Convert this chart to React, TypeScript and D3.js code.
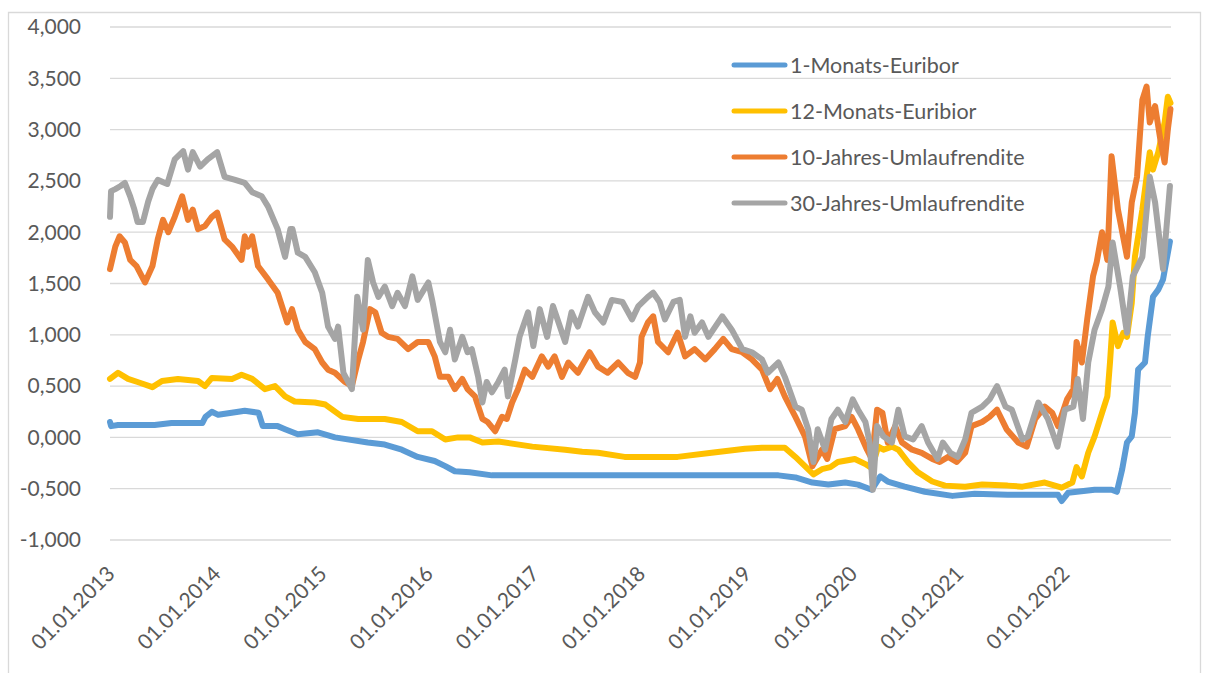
import React from "react";
import * as d3 from "d3";

// [decimal year, value in %]
const euribor1M: [number, number][] = [
  [2013.0, 0.15], [2013.01, 0.11], [2013.075, 0.12], [2013.42, 0.12], [2013.58, 0.14], [2013.87, 0.14],
  [2013.9, 0.2], [2013.96, 0.25], [2014.02, 0.22], [2014.21, 0.25], [2014.27, 0.26], [2014.4, 0.24],
  [2014.44, 0.11], [2014.58, 0.11], [2014.65, 0.08], [2014.77, 0.03], [2014.96, 0.05], [2015.12, 0.0],
  [2015.43, -0.05], [2015.59, -0.07], [2015.75, -0.12], [2015.9, -0.19], [2016.06, -0.23], [2016.16, -0.28],
  [2016.25, -0.33], [2016.39, -0.34], [2016.6, -0.37], [2017.0, -0.37], [2018.0, -0.37], [2019.0, -0.37],
  [2019.3, -0.37], [2019.46, -0.39], [2019.62, -0.44], [2019.77, -0.46], [2019.93, -0.44], [2020.05, -0.46],
  [2020.18, -0.51], [2020.26, -0.38], [2020.33, -0.43], [2020.49, -0.48], [2020.68, -0.53], [2020.94, -0.57],
  [2021.15, -0.55], [2021.46, -0.56], [2021.75, -0.56], [2021.935, -0.56], [2021.97, -0.62], [2022.03, -0.54],
  [2022.28, -0.51], [2022.44, -0.51], [2022.49, -0.53], [2022.54, -0.31], [2022.585, -0.05], [2022.63, 0.01],
  [2022.66, 0.24], [2022.69, 0.66], [2022.755, 0.73], [2022.78, 0.98], [2022.83, 1.37], [2022.88, 1.44],
  [2022.925, 1.54], [2022.99, 1.91],
];

const euribor12M: [number, number][] = [
  [2013.0, 0.57], [2013.075, 0.63], [2013.17, 0.57], [2013.26, 0.54], [2013.4, 0.49], [2013.49, 0.55],
  [2013.64, 0.57], [2013.83, 0.55], [2013.895, 0.5], [2013.96, 0.58], [2014.15, 0.57], [2014.24, 0.61],
  [2014.34, 0.57], [2014.46, 0.47], [2014.555, 0.5], [2014.65, 0.4], [2014.74, 0.35], [2014.93, 0.34],
  [2015.03, 0.32], [2015.19, 0.2], [2015.34, 0.18], [2015.59, 0.18], [2015.75, 0.15], [2015.9, 0.06],
  [2016.035, 0.06], [2016.16, -0.02], [2016.28, 0.0], [2016.39, 0.0], [2016.51, -0.05], [2016.66, -0.04],
  [2016.98, -0.09], [2017.29, -0.12], [2017.45, -0.14], [2017.6, -0.15], [2017.85, -0.19], [2018.07, -0.19],
  [2018.35, -0.19], [2018.67, -0.15], [2018.985, -0.11], [2019.145, -0.1], [2019.36, -0.1], [2019.46, -0.19],
  [2019.55, -0.28], [2019.63, -0.36], [2019.71, -0.31], [2019.79, -0.29], [2019.86, -0.24], [2020.02, -0.21],
  [2020.12, -0.26], [2020.18, -0.3], [2020.24, -0.09], [2020.29, -0.12], [2020.37, -0.09], [2020.43, -0.12],
  [2020.52, -0.24], [2020.615, -0.34], [2020.75, -0.43], [2020.87, -0.47], [2021.06, -0.48], [2021.22, -0.46],
  [2021.46, -0.47], [2021.6, -0.48], [2021.81, -0.44], [2021.97, -0.49], [2022.07, -0.44], [2022.11, -0.29],
  [2022.16, -0.38], [2022.22, -0.15], [2022.28, 0.01], [2022.35, 0.24], [2022.4, 0.4], [2022.425, 0.73],
  [2022.45, 1.12], [2022.5, 0.89], [2022.55, 1.02], [2022.585, 0.98], [2022.63, 1.31], [2022.66, 1.76],
  [2022.73, 2.22], [2022.77, 2.54], [2022.8, 2.78], [2022.83, 2.61], [2022.88, 2.78], [2022.94, 3.07],
  [2022.97, 3.32], [2022.995, 3.26],
];

const umlauf10Y: [number, number][] = [
  [2013.0, 1.64], [2013.05, 1.86], [2013.09, 1.96], [2013.14, 1.9], [2013.19, 1.73], [2013.25, 1.67],
  [2013.33, 1.51], [2013.4, 1.67], [2013.45, 1.93], [2013.5, 2.12], [2013.55, 2.0], [2013.61, 2.15],
  [2013.68, 2.35], [2013.735, 2.12], [2013.78, 2.22], [2013.83, 2.03], [2013.895, 2.06], [2013.96, 2.15],
  [2014.01, 2.19], [2014.08, 1.93], [2014.15, 1.86], [2014.24, 1.73], [2014.27, 1.96], [2014.3, 1.86],
  [2014.34, 1.96], [2014.395, 1.67], [2014.49, 1.54], [2014.58, 1.41], [2014.67, 1.12], [2014.715, 1.25],
  [2014.77, 1.05], [2014.84, 0.93], [2014.93, 0.86], [2015.0, 0.73], [2015.055, 0.66], [2015.12, 0.63],
  [2015.215, 0.54], [2015.28, 0.5], [2015.34, 0.76], [2015.385, 0.93], [2015.45, 1.25], [2015.5, 1.22],
  [2015.56, 1.02], [2015.62, 0.98], [2015.71, 0.96], [2015.81, 0.86], [2015.9, 0.93], [2016.0, 0.93],
  [2016.06, 0.79], [2016.11, 0.59], [2016.19, 0.59], [2016.25, 0.47], [2016.32, 0.57], [2016.37, 0.47],
  [2016.44, 0.4], [2016.51, 0.18], [2016.56, 0.15], [2016.63, 0.06], [2016.695, 0.2], [2016.74, 0.18],
  [2016.79, 0.34], [2016.845, 0.47], [2016.91, 0.66], [2016.98, 0.59], [2017.07, 0.79], [2017.13, 0.69],
  [2017.19, 0.79], [2017.26, 0.59], [2017.32, 0.73], [2017.41, 0.63], [2017.52, 0.83], [2017.6, 0.69],
  [2017.69, 0.63], [2017.79, 0.73], [2017.88, 0.63], [2017.95, 0.59], [2017.995, 0.73], [2018.01, 0.98],
  [2018.07, 1.12], [2018.12, 1.18], [2018.165, 0.93], [2018.26, 0.83], [2018.35, 1.02], [2018.42, 0.79],
  [2018.51, 0.86], [2018.61, 0.76], [2018.7, 0.86], [2018.78, 0.96], [2018.86, 0.86], [2018.96, 0.83],
  [2019.05, 0.76], [2019.145, 0.66], [2019.22, 0.47], [2019.29, 0.57], [2019.36, 0.4], [2019.46, 0.2],
  [2019.55, 0.01], [2019.62, -0.28], [2019.71, -0.12], [2019.76, -0.21], [2019.83, 0.08], [2019.93, 0.11],
  [2019.99, 0.2], [2020.05, 0.08], [2020.135, -0.12], [2020.18, -0.21], [2020.23, 0.27], [2020.28, 0.24],
  [2020.33, -0.05], [2020.4, 0.11], [2020.465, -0.05], [2020.56, -0.12], [2020.65, -0.15], [2020.75, -0.21],
  [2020.82, -0.24], [2020.9, -0.19], [2020.98, -0.24], [2021.06, -0.15], [2021.12, 0.11], [2021.22, 0.15],
  [2021.29, 0.2], [2021.36, 0.27], [2021.45, 0.08], [2021.56, -0.05], [2021.64, -0.09], [2021.72, 0.18],
  [2021.81, 0.3], [2021.88, 0.24], [2021.935, 0.11], [2022.02, 0.37], [2022.08, 0.47], [2022.11, 0.93],
  [2022.16, 0.73], [2022.21, 1.15], [2022.265, 1.57], [2022.3, 1.71], [2022.35, 2.0], [2022.4, 1.73],
  [2022.44, 2.74], [2022.5, 2.22], [2022.585, 1.76], [2022.63, 2.29], [2022.68, 2.54], [2022.73, 3.29],
  [2022.77, 3.42], [2022.8, 3.07], [2022.85, 3.23], [2022.9, 2.9], [2022.94, 2.68], [2022.97, 3.0],
  [2022.995, 3.2],
];

const umlauf30Y: [number, number][] = [
  [2013.0, 2.15], [2013.01, 2.4], [2013.05, 2.42], [2013.1, 2.45], [2013.14, 2.48], [2013.19, 2.35],
  [2013.23, 2.22], [2013.26, 2.1], [2013.31, 2.1], [2013.36, 2.3], [2013.4, 2.42], [2013.45, 2.51],
  [2013.54, 2.47], [2013.61, 2.71], [2013.69, 2.79], [2013.735, 2.61], [2013.78, 2.78], [2013.85, 2.64],
  [2013.92, 2.71], [2014.01, 2.78], [2014.08, 2.54], [2014.18, 2.51], [2014.27, 2.48], [2014.34, 2.39],
  [2014.43, 2.35], [2014.49, 2.25], [2014.58, 2.03], [2014.65, 1.76], [2014.7, 2.03], [2014.72, 2.03],
  [2014.77, 1.8], [2014.84, 1.76], [2014.93, 1.61], [2015.0, 1.41], [2015.055, 1.08], [2015.12, 0.96],
  [2015.15, 1.08], [2015.2, 0.63], [2015.28, 0.47], [2015.33, 1.37], [2015.385, 1.05], [2015.43, 1.73],
  [2015.48, 1.51], [2015.53, 1.37], [2015.59, 1.47], [2015.66, 1.28], [2015.71, 1.41], [2015.78, 1.28],
  [2015.85, 1.57], [2015.9, 1.34], [2016.0, 1.51], [2016.04, 1.32], [2016.11, 0.93], [2016.16, 0.83],
  [2016.205, 1.05], [2016.25, 0.76], [2016.32, 0.98], [2016.37, 0.83], [2016.41, 0.86], [2016.47, 0.59],
  [2016.51, 0.34], [2016.55, 0.54], [2016.6, 0.44], [2016.66, 0.54], [2016.72, 0.66], [2016.75, 0.4],
  [2016.82, 0.76], [2016.86, 0.98], [2016.94, 1.22], [2016.99, 0.89], [2017.05, 1.25], [2017.12, 0.98],
  [2017.175, 1.28], [2017.29, 0.93], [2017.35, 1.22], [2017.41, 1.08], [2017.505, 1.37], [2017.57, 1.22],
  [2017.65, 1.12], [2017.73, 1.34], [2017.83, 1.32], [2017.92, 1.15], [2017.98, 1.28], [2018.07, 1.37],
  [2018.12, 1.41], [2018.18, 1.32], [2018.23, 1.15], [2018.31, 1.32], [2018.37, 1.34], [2018.42, 0.98],
  [2018.47, 1.18], [2018.51, 1.02], [2018.58, 1.12], [2018.64, 0.98], [2018.77, 1.18], [2018.86, 1.05],
  [2018.96, 0.86], [2019.05, 0.83], [2019.145, 0.76], [2019.2, 0.63], [2019.3, 0.73], [2019.36, 0.59],
  [2019.46, 0.3], [2019.52, 0.27], [2019.58, 0.08], [2019.63, -0.24], [2019.67, 0.08], [2019.74, -0.12],
  [2019.8, 0.18], [2019.86, 0.27], [2019.93, 0.15], [2020.0, 0.37], [2020.05, 0.27], [2020.12, 0.15],
  [2020.16, -0.05], [2020.19, -0.51], [2020.23, 0.11], [2020.29, 0.01], [2020.37, -0.05], [2020.43, 0.27],
  [2020.49, 0.01], [2020.57, -0.02], [2020.65, 0.11], [2020.71, -0.05], [2020.8, -0.21], [2020.85, -0.05],
  [2020.92, -0.15], [2020.99, -0.19], [2021.06, -0.02], [2021.12, 0.24], [2021.22, 0.3], [2021.29, 0.37],
  [2021.36, 0.5], [2021.44, 0.3], [2021.5, 0.27], [2021.6, -0.02], [2021.65, 0.01], [2021.75, 0.34],
  [2021.84, 0.18], [2021.93, -0.09], [2022.0, 0.27], [2022.08, 0.3], [2022.12, 0.57], [2022.17, 0.18],
  [2022.22, 0.73], [2022.28, 1.05], [2022.35, 1.25], [2022.41, 1.47], [2022.45, 1.9], [2022.52, 1.47],
  [2022.585, 1.02], [2022.64, 1.57], [2022.73, 1.76], [2022.8, 2.54], [2022.85, 2.29], [2022.925, 1.64],
  [2022.99, 2.45],
];

const seriesNames = ["1-Monats-Euribor", "12-Monats-Euribior", "10-Jahres-Umlaufrendite", "30-Jahres-Umlaufrendite"];
const seriesColors = ["#5b9bd5", "#ffc000", "#ed7d31", "#a5a5a5"];
const seriesData = [euribor1M, euribor12M, umlauf10Y, umlauf30Y];
const yTicks = [-1, -0.5, 0, 0.5, 1, 1.5, 2, 2.5, 3, 3.5, 4];
const xTickYears = [2013, 2014, 2015, 2016, 2017, 2018, 2019, 2020, 2021, 2022];

const W = 1205;
const H = 673;
const FONT = "Lato, 'Noto Sans', sans-serif";
const TEXT = "#595959";
const GRID = "#d9d9d9";

export default function App() {
  const x = d3.scaleLinear().domain([2013, 2023]).range([110, 1171]);
  const y = d3.scaleLinear().domain([-1, 4]).range([540, 27]);
  const loc = d3.formatLocale({ decimal: ",", thousands: ".", grouping: [3], currency: ["", "€"], minus: "-" });
  const fmt = loc.format(".3f");
  const line = d3
    .line<[number, number]>()
    .x((d) => x(d[0]))
    .y((d) => y(d[1]));

  return (
    <svg
      width={W}
      height={H}
      style={{ position: "fixed", left: 0, top: 0, background: "#fff" }}
      fontFamily={FONT}
    >
      <rect x={0} y={0} width={W} height={H} fill="#fff" />
      <path d={`M8.5,${H} V12.5 H1200.5 V${H}`} fill="none" stroke={GRID} strokeWidth={1.3} />
      {yTicks.map((t) => (
        <g key={t}>
          <line x1={110} x2={1171} y1={y(t)} y2={y(t)} stroke={GRID} strokeWidth={1.3} />
          <text x={81} y={y(t)} dy="0.35em" textAnchor="end" fontSize={21} fill={TEXT}>
            {fmt(t)}
          </text>
        </g>
      ))}
      {xTickYears.map((yr) => (
        <text
          key={yr}
          transform={`translate(${x(yr)},569) rotate(-45)`}
          textAnchor="end"
          dominantBaseline="central"
          fontSize={21}
          fill={TEXT}
        >
          {`01.01.${yr}`}
        </text>
      ))}
      {seriesData.map((s, i) => (
        <path
          key={i}
          d={line(s) || ""}
          fill="none"
          stroke={seriesColors[i]}
          strokeWidth={6}
          strokeLinejoin="round"
          strokeLinecap="round"
        />
      ))}
      {seriesNames.map((n, i) => {
        const ly = 65 + i * 46;
        return (
          <g key={n}>
            <line x1={734} x2={785} y1={ly} y2={ly} stroke={seriesColors[i]} strokeWidth={5} strokeLinecap="round" />
            <text x={790} y={ly} dy="0.35em" fontSize={21.5} fill={TEXT}>
              {n}
            </text>
          </g>
        );
      })}
    </svg>
  );
}
